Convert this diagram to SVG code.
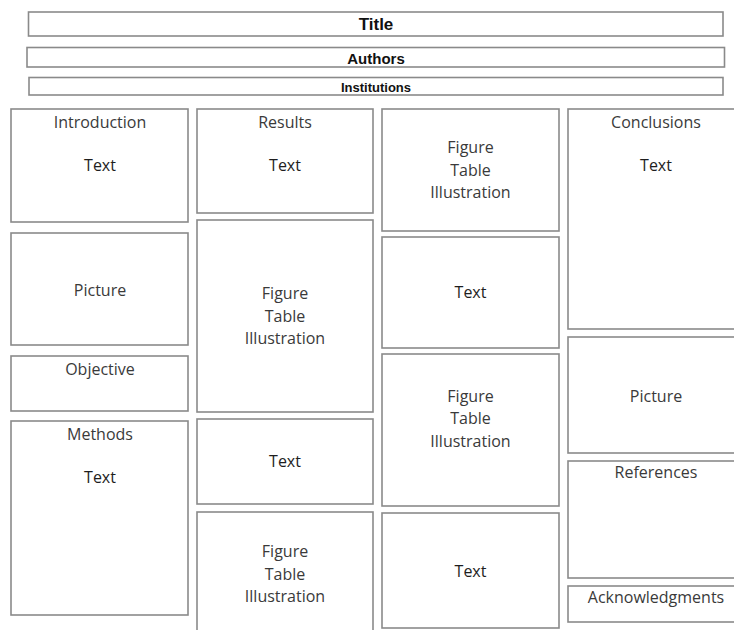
<svg xmlns="http://www.w3.org/2000/svg" width="734" height="630" viewBox="0 0 734 630">
<style>
  .box { fill: #ffffff; stroke: #8a8a8a; stroke-width: 1.6; }
  .hdr { font-family: "Liberation Sans", Arial, sans-serif; font-weight: bold; fill: #111; text-anchor: middle; }
  .lbl { font-family: "Open Sans", "Noto Sans", sans-serif; font-size: 16px; fill: #3a3a3a; text-anchor: middle; }
  .txt { font-family: "Open Sans", "Noto Sans", sans-serif; font-size: 16px; fill: #1e1e1e; text-anchor: middle; }
</style>
<rect width="734" height="630" fill="#ffffff"/>

<g id="title"><rect class="box" x="28.5" y="12" width="694.5" height="24"/><text class="hdr" x="376" y="30" font-size="17">Title</text></g>
<g id="authors"><rect class="box" x="27" y="47.5" width="697.5" height="19.5"/><text class="hdr" x="376" y="63.5" font-size="15">Authors</text></g>
<g id="institutions"><rect class="box" x="29" y="77.5" width="694" height="17.5"/><text class="hdr" x="376" y="92" font-size="13">Institutions</text></g>

<!-- Column 1 -->
<g id="introduction"><rect class="box" x="11" y="109" width="177" height="113"/><text class="lbl" x="100" y="128">Introduction</text><text class="txt" x="100" y="171">Text</text></g>
<g id="picture1"><rect class="box" x="11" y="233" width="177" height="112"/><text class="lbl" x="100" y="296">Picture</text></g>
<g id="objective"><rect class="box" x="11" y="356" width="177" height="55"/><text class="lbl" x="100" y="375">Objective</text></g>
<g id="methods"><rect class="box" x="11" y="421" width="177" height="194"/><text class="lbl" x="100" y="440">Methods</text><text class="txt" x="100" y="483">Text</text></g>

<!-- Column 2 -->
<g id="results"><rect class="box" x="197" y="109" width="176" height="104"/><text class="lbl" x="285" y="128">Results</text><text class="txt" x="285" y="171">Text</text></g>
<g id="figure1"><rect class="box" x="197" y="220" width="176" height="192"/><text class="lbl" x="285" y="299">Figure</text><text class="lbl" x="285" y="322">Table</text><text class="lbl" x="285" y="344">Illustration</text></g>
<g id="text-r1"><rect class="box" x="197" y="419" width="176" height="85"/><text class="txt" x="285" y="467">Text</text></g>
<g id="figure2"><rect class="box" x="197" y="512" width="176" height="125"/><text class="lbl" x="285" y="557">Figure</text><text class="lbl" x="285" y="580">Table</text><text class="lbl" x="285" y="602">Illustration</text></g>

<!-- Column 3 -->
<g id="figure3"><rect class="box" x="382" y="109" width="177" height="122"/><text class="lbl" x="470.5" y="153">Figure</text><text class="lbl" x="470.5" y="176">Table</text><text class="lbl" x="470.5" y="198">Illustration</text></g>
<g id="text-c3a"><rect class="box" x="382" y="237" width="177" height="111"/><text class="txt" x="470.5" y="298">Text</text></g>
<g id="figure4"><rect class="box" x="382" y="354" width="177" height="152"/><text class="lbl" x="470.5" y="402">Figure</text><text class="lbl" x="470.5" y="424">Table</text><text class="lbl" x="470.5" y="447">Illustration</text></g>
<g id="text-c3b"><rect class="box" x="382" y="513" width="177" height="115"/><text class="txt" x="470.5" y="577">Text</text></g>

<!-- Column 4 -->
<g id="conclusions"><rect class="box" x="568" y="109" width="178" height="220"/><text class="lbl" x="656" y="128">Conclusions</text><text class="txt" x="656" y="171">Text</text></g>
<g id="picture2"><rect class="box" x="568" y="337" width="178" height="116"/><text class="lbl" x="656" y="402">Picture</text></g>
<g id="references"><rect class="box" x="568" y="461" width="178" height="117"/><text class="lbl" x="656" y="478">References</text></g>
<g id="acknowledgments"><rect class="box" x="568" y="586" width="178" height="36"/><text class="lbl" x="656" y="603">Acknowledgments</text></g>
</svg>
